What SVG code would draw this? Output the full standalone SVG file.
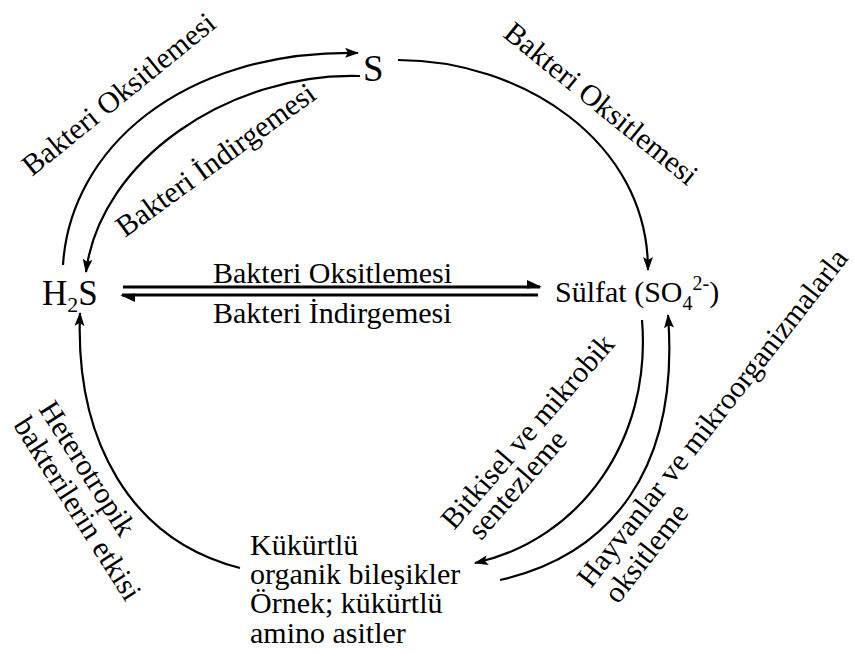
<svg xmlns="http://www.w3.org/2000/svg" width="854" height="654" viewBox="0 0 854 654">
<style>
.t{font-family:"Liberation Serif","Times New Roman",serif;font-size:30px;fill:#000}
.big{font-size:35px}
.s{font-size:37px}
.c{fill:none;stroke:#000;stroke-width:2.2}
.h{fill:none;stroke:#000;stroke-width:3}
</style>
<defs>
<marker id="ah" viewBox="0 0 14 10" refX="13" refY="5" markerWidth="14" markerHeight="10" markerUnits="userSpaceOnUse" orient="auto"><path d="M0,0 L14,5 L0,10 L3,5 z" fill="#000"/></marker>
</defs>
<rect width="854" height="654" fill="#fff"/>
<g id="connectors">
<path class="c" d="M63,265 C70,150 180,50 358,53" marker-end="url(#ah)"/>
<path class="c" d="M360,76 C230,72 100,160 86,272" marker-end="url(#ah)"/>
<path class="c" d="M398,60 C520,60 648,140 648,270" marker-end="url(#ah)"/>
<path class="c" d="M240,568 C130,540 75,440 80,313" marker-end="url(#ah)"/>
<path class="c" d="M642,320 C652,440 580,540 475,563" marker-end="url(#ah)"/>
<path class="c" d="M500,580 C610,555 680,470 668,315" marker-end="url(#ah)"/>
<path class="h" d="M123,287 H540"/>
<path d="M527,280 L542,287 L527,288.5 z" fill="#000"/>
<path class="h" d="M122,295 H538"/>
<path d="M120,295 L135,302 L135,293.5 z" fill="#000"/>
</g>
<g id="node-S"><text class="t s" x="363" y="81">S</text></g>
<g id="node-H2S"><text class="t big" x="42" y="305">H<tspan font-size="22" dy="7">2</tspan><tspan dy="-7">S</tspan></text></g>
<g id="node-sulfat"><text class="t" x="555" y="302">Sülfat (SO<tspan font-size="20" dy="8">4</tspan><tspan font-size="20" dy="-20">2-</tspan><tspan dy="12">)</tspan></text></g>
<g id="node-organik"><text class="t" x="250" y="555">Kükürtlü</text><text class="t" x="250" y="584">organik bileşikler</text><text class="t" x="250" y="613">Örnek; kükürtlü</text><text class="t" x="250" y="643">amino asitler</text></g>
<g id="labels">
<text class="t" x="213" y="283">Bakteri Oksitlemesi</text>
<text class="t" x="213" y="323">Bakteri İndirgemesi</text>
<text class="t" transform="translate(32,177) rotate(-39)">Bakteri Oksitlemesi</text>
<text class="t" transform="translate(125,238) rotate(-36)">Bakteri İndirgemesi</text>
<text class="t" transform="translate(502,36) rotate(39)">Bakteri Oksitlemesi</text>
<text class="t" transform="translate(591,589) rotate(-52)">Hayvanlar ve mikroorganizmalarla<tspan x="4" dy="31">oksitleme</tspan></text>
<text class="t" transform="translate(454,531) rotate(-49)">Bitkisel ve mikrobik<tspan x="10" dy="27">sentezleme</tspan></text>
<text class="t" transform="translate(38,409) rotate(57.5)">Heterotropik<tspan x="0" dy="30">bakterilerin etkisi</tspan></text>
</g>
</svg>
